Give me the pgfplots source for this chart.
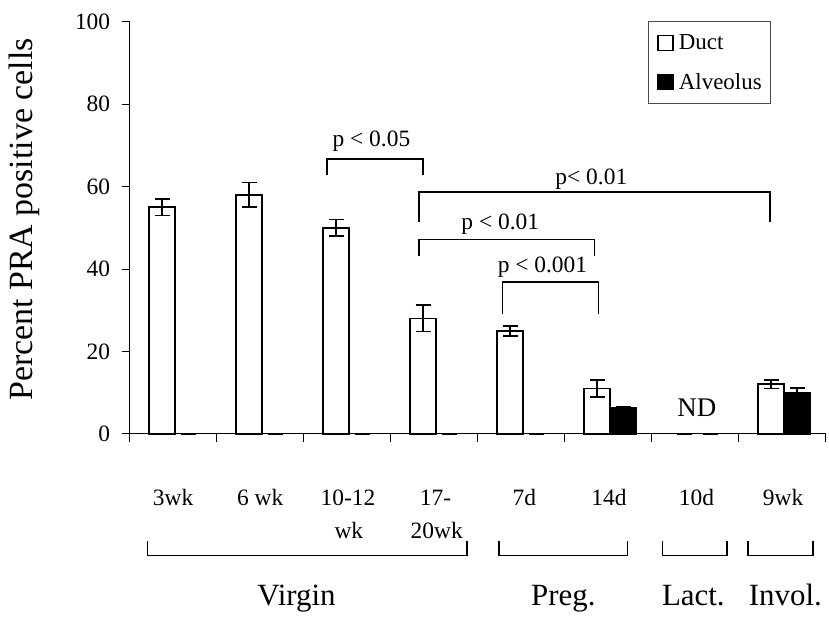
\documentclass[border=0pt]{standalone}
\usepackage{fontspec}
\setmainfont{Liberation Serif}
\usepackage{pgfplots}
\pgfplotsset{compat=1.18}
\pgfplotsset{errb/.style={error bars/.cd, y dir=both, y explicit,
  error bar style={black, line width=1.6pt},
  error mark options={black, rotate=90, mark size=7.5pt, line width=1.6pt}},
  duct/.style={x filter/.expression={x-0.1261}},
  alv/.style={x filter/.expression={x+0.1719}}}
\newcommand{\fsmall}{\fontsize{23.5pt}{28pt}\selectfont}
\newcommand{\fbig}{\fontsize{31pt}{37pt}\selectfont}
\begin{document}
\begin{tikzpicture}
\begin{axis}[
  width=698pt, height=413pt, scale only axis,
  xmin=-0.5, xmax=7.5, ymin=0, ymax=100,
  axis x line*=bottom, axis y line*=left,
  axis line style={line width=1.1pt, black},
  xtick={-0.5,0.5,...,7.5}, xticklabels={},
  ytick={0,20,...,100},
  tick align=outside, major tick length=8pt,
  tick style={line width=1.1pt, black},
  yticklabel style={font=\fsmall, xshift=-8pt},
  /pgf/number format/assume math mode=true,
  clip=false,
  legend style={at={(0.745,1)}, anchor=north west, draw=black!70, line width=0.9pt,
    font=\fontsize{23pt}{27pt}\selectfont, inner xsep=6pt, inner ysep=11pt, row sep=18pt,
    nodes={inner xsep=3pt}, outer sep=0pt},
  legend cell align=left,
  legend image code/.code={\path (-3pt,0) (17pt,0);
    \draw[#1, line width=1.2pt] (0pt,-7.5pt) rectangle (15pt,7.5pt);},
]
% bounding box of the whole figure
\path (axis cs:-1.99,-44.31) rectangle (axis cs:7.511,105.33);

% Duct
\addplot[ybar, bar width=26pt, bar shift=0pt, fill=white, draw=black, line width=1.8pt, duct, errb]
 coordinates {(0,55) +- (0,2) (1,58) +- (0,3) (2,50) +- (0,2) (3,28) +- (0,3.2)
              (4,25) +- (0,1.2) (5,11) +- (0,2) (7,12) +- (0,1)};
\addlegendentry{Duct}
% Alveolus
\addplot[ybar, bar width=26pt, bar shift=0pt, fill=black, draw=black, line width=1.8pt, alv, errb]
 coordinates {(5,6.2) +- (0,0.3) (7,10) +- (0,1.1)};
\addlegendentry{Alveolus}
% zero values (only the error caps are visible)
\addplot[ybar, bar width=26pt, bar shift=0pt, draw=none, fill=none, forget plot, duct, errb]
 coordinates {(6,0) +- (0,0)};
\addplot[ybar, bar width=26pt, bar shift=0pt, draw=none, fill=none, forget plot, alv, errb]
 coordinates {(0,0) +- (0,0) (1,0) +- (0,0) (2,0) +- (0,0) (3,0) +- (0,0) (4,0) +- (0,0) (6,0) +- (0,0)};

% significance brackets
\draw[line width=1.6pt] (axis cs:1.769,62.95) |- (axis cs:2.869,66.76) -- (axis cs:2.869,62.95);
\node[anchor=base, font=\fsmall] at (axis cs:2.279,69.7) {p < 0.05};
\draw[line width=1.6pt] (axis cs:2.824,51.4) |- (axis cs:6.858,58.77) -- (axis cs:6.858,51.4);
\node[anchor=base, font=\fsmall] at (axis cs:4.807,60.5) {p< 0.01};
\draw[line width=1.6pt] (axis cs:2.824,43.2) |- (axis cs:4.841,47.2) -- (axis cs:4.841,43.2);
\node[anchor=base, font=\fsmall] at (axis cs:3.760,49.6) {p < 0.01};
\draw[line width=1.6pt] (axis cs:3.787,29.2) |- (axis cs:4.887,36.9) -- (axis cs:4.887,29.2);
\node[anchor=base, font=\fsmall] at (axis cs:4.245,39.1) {p < 0.001};
\node[anchor=base, font=\fontsize{27pt}{32pt}\selectfont] at (axis cs:6.02,4.1) {ND};

% category labels
\node[anchor=base, font=\fsmall] at (axis cs:0.0,-17.4) {3wk};
\node[anchor=base, font=\fsmall] at (axis cs:1.0,-17.4) {6 wk};
\node[anchor=base, font=\fsmall] at (axis cs:2.01,-17.4) {10-12};
\node[anchor=base, font=\fsmall] at (axis cs:2.02,-25.4) {wk};
\node[anchor=base, font=\fsmall] at (axis cs:3.015,-17.4) {17-};
\node[anchor=base, font=\fsmall] at (axis cs:3.03,-25.4) {20wk};
\node[anchor=base, font=\fsmall] at (axis cs:4.036,-17.4) {7d};
\node[anchor=base, font=\fsmall] at (axis cs:5.01,-17.4) {14d};
\node[anchor=base, font=\fsmall] at (axis cs:6.015,-17.4) {10d};
\node[anchor=base, font=\fsmall] at (axis cs:7.01,-17.4) {9wk};

% group brackets
\draw[line width=1.6pt] (axis cs:-0.295,-26.15) |- (axis cs:3.380,-29.54) -- (axis cs:3.380,-26.15);
\draw[line width=1.6pt] (axis cs:3.743,-26.15) |- (axis cs:5.220,-29.54) -- (axis cs:5.220,-26.15);
\draw[line width=1.6pt] (axis cs:5.625,-26.15) |- (axis cs:6.367,-29.54) -- (axis cs:6.367,-26.15);
\draw[line width=1.6pt] (axis cs:6.607,-26.15) |- (axis cs:7.353,-29.54) -- (axis cs:7.353,-26.15);
\node[anchor=base, font=\fbig] at (axis cs:1.418,-41.65) {Virgin};
\node[anchor=base, font=\fbig] at (axis cs:4.486,-41.65) {Preg.};
\node[anchor=base, font=\fbig] at (axis cs:5.979,-41.65) {Lact.};
\node[anchor=base, font=\fbig] at (axis cs:7.037,-41.65) {Invol.};

% y label
\node[rotate=90, anchor=base, font=\fontsize{34pt}{40pt}\selectfont] at (axis cs:-1.612,52.06) {Percent PRA positive cells};
\end{axis}
\end{tikzpicture}
\end{document}
